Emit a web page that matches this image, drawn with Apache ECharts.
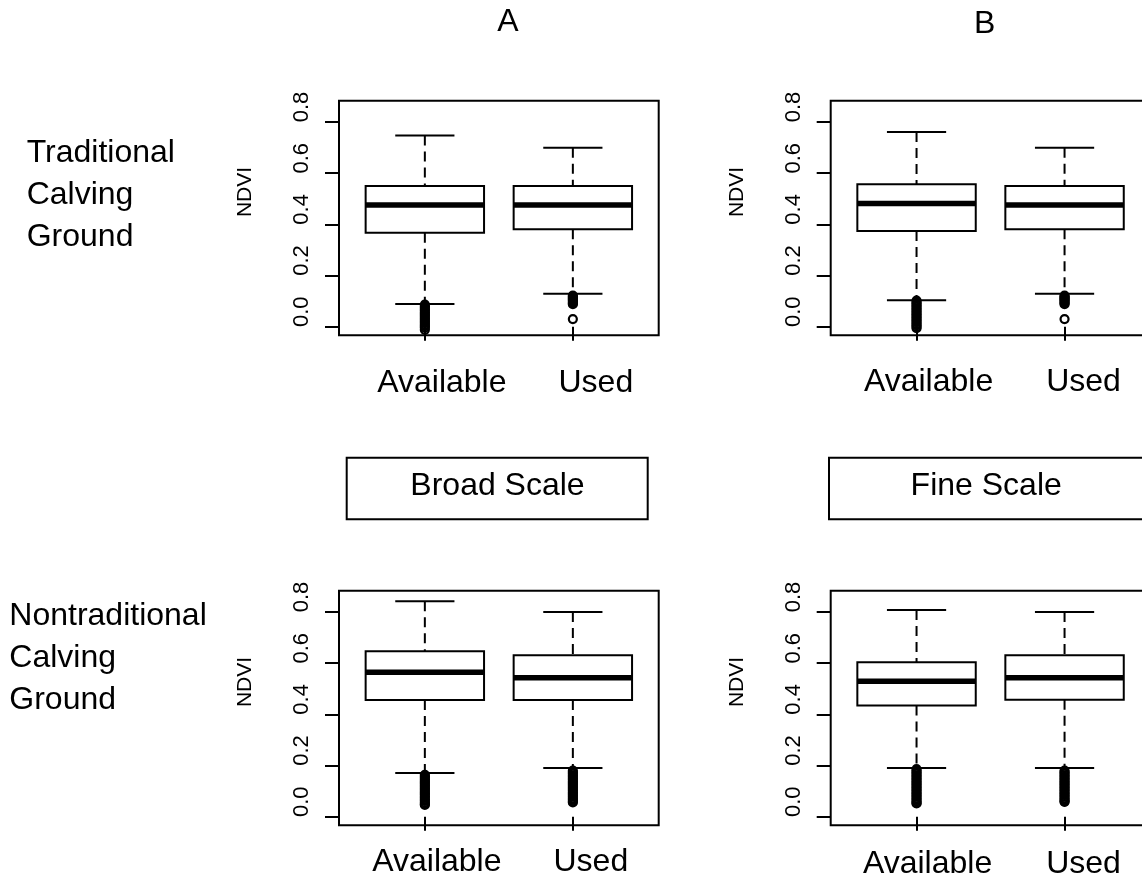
<!DOCTYPE html>
<html><head><meta charset="utf-8">
<script src="https://cdn.jsdelivr.net/npm/echarts@6/dist/echarts.min.js"></script>
<style>html,body{margin:0;padding:0;background:#fff}#c{width:1142px;height:882px}</style>
</head><body><div id="c"></div>
<script>
const categories = ['Available', 'Used'];
const yTicks = [0.0, 0.2, 0.4, 0.6, 0.8];
const rowLabels = ['Traditional\nCalving\nGround', 'Nontraditional\nCalving\nGround'];
const panelLetters = ['A', 'B'];
const scaleLabels = ['Broad Scale', 'Fine Scale'];

// box statistics: [lower whisker, Q1, median, Q3, upper whisker]
const tradBroadAvail = [0.089, 0.3675, 0.476, 0.550, 0.747];
const tradBroadUsed  = [0.129, 0.381, 0.476, 0.550, 0.700];
const tradFineAvail  = [0.103, 0.374, 0.482, 0.557, 0.761];
const tradFineUsed   = [0.129, 0.381, 0.476, 0.550, 0.700];
const nonBroadAvail  = [0.171, 0.456, 0.565, 0.647, 0.842];
const nonBroadUsed   = [0.190, 0.456, 0.543, 0.631, 0.800];
const nonFineAvail   = [0.190, 0.435, 0.530, 0.604, 0.808];
const nonFineUsed    = [0.190, 0.457, 0.543, 0.631, 0.800];

// outliers
const tradBroadAvailOut = [0.086,0.080,0.074,0.068,0.062,0.056,0.050,0.044,0.038,0.032,0.026,0.020,0.014,0.008,0.002,-0.004,-0.012];
const tradBroadUsedOut  = [0.122,0.118,0.114,0.110,0.106,0.102,0.097,0.092,0.088,0.030];
const tradFineAvailOut  = [0.102,0.096,0.090,0.084,0.078,0.072,0.066,0.060,0.054,0.048,0.042,0.036,0.030,0.024,0.018,0.012,0.006,0.000,-0.006];
const tradFineUsedOut   = [0.122,0.118,0.114,0.110,0.106,0.102,0.097,0.092,0.088,0.030];
const nonBroadAvailOut  = [0.164,0.158,0.152,0.146,0.140,0.134,0.128,0.122,0.116,0.110,0.104,0.098,0.092,0.086,0.080,0.074,0.068,0.062,0.056,0.050,0.046];
const nonBroadUsedOut   = [0.180,0.174,0.168,0.162,0.156,0.150,0.144,0.138,0.132,0.126,0.120,0.114,0.108,0.102,0.096,0.090,0.084,0.078,0.072,0.066,0.060,0.056];
const nonFineAvailOut   = [0.186,0.180,0.174,0.168,0.162,0.156,0.150,0.144,0.138,0.132,0.126,0.120,0.114,0.108,0.102,0.096,0.090,0.084,0.078,0.072,0.066,0.060,0.054,0.052];
const nonFineUsedOut    = [0.180,0.174,0.168,0.162,0.156,0.150,0.144,0.138,0.132,0.126,0.120,0.114,0.108,0.102,0.096,0.090,0.084,0.078,0.072,0.066,0.060,0.058];

const FONT = "'Liberation Sans', Arial, Helvetica, sans-serif";
const X_MIN = 0.42, X_MAX = 2.58, Y_MIN = -0.0336, Y_MAX = 0.8835;
const GW = 319.7, GH = 234.6;
const PXU = GW / (X_MAX - X_MIN);

const panels = [
  {stats: [tradBroadAvail, tradBroadUsed], out: [tradBroadAvailOut, tradBroadUsedOut], left: 339, top: 100.7, lm: 32.2, shift: [17, 23]},
  {stats: [tradFineAvail, tradFineUsed],   out: [tradFineAvailOut, tradFineUsedOut],   left: 830.7, top: 100.7, lm: 31.2, shift: [12, 19]},
  {stats: [nonBroadAvail, nonBroadUsed],   out: [nonBroadAvailOut, nonBroadUsedOut],   left: 339, top: 590.7, lm: 21.2, shift: [12, 18]},
  {stats: [nonFineAvail, nonFineUsed],     out: [nonFineAvailOut, nonFineUsedOut],     left: 830.7, top: 590.7, lm: 22.7, shift: [11, 19]}
];

const grid = [], xAxis = [], yAxis = [], series = [];
panels.forEach((p, i) => {
  grid.push({left: p.left, top: p.top, width: GW, height: GH, show: true, borderColor: '#000', borderWidth: 2,
             backgroundColor: 'transparent', containLabel: false, outerBoundsMode: 'none'});
  xAxis.push({
    type: 'value', gridIndex: i, min: X_MIN, max: X_MAX,
    axisLine: {show: false}, splitLine: {show: false},
    axisTick: {show: true, length: 14, lineStyle: {color: '#000', width: 2}, customValues: [1, 2]},
    axisLabel: {
      show: true, margin: p.lm, fontSize: 32, fontFamily: FONT, color: '#000',
      customValues: [1 + p.shift[0] / PXU, 2 + p.shift[1] / PXU],
      formatter: v => categories[Math.round(v) - 1]
    }
  });
  yAxis.push({
    type: 'value', gridIndex: i, min: Y_MIN, max: Y_MAX,
    name: 'NDVI', nameLocation: 'middle', nameRotate: 90, nameGap: 83,
    nameTextStyle: {fontSize: 21, fontFamily: FONT, color: '#000', padding: [0, 0, 0, 52]},
    axisLine: {show: false}, splitLine: {show: false},
    axisTick: {show: true, length: 14, lineStyle: {color: '#000', width: 2}, customValues: yTicks},
    axisLabel: {
      show: true, rotate: 90, margin: 26, fontSize: 22, fontFamily: FONT, color: '#000',
      padding: [0, 0, 0, 30], customValues: yTicks, formatter: v => v.toFixed(1)
    }
  });
  series.push({
    type: 'custom', xAxisIndex: i, yAxisIndex: i, z: 2,
    data: p.stats.map((s, k) => [k + 1].concat(s)),
    encode: {x: 0, y: [1, 2, 3, 4, 5]},
    renderItem: (params, api) => {
      const x = api.value(0);
      const lo = api.value(1), q1 = api.value(2), md = api.value(3), q3 = api.value(4), hi = api.value(5);
      const c = (a, b) => api.coord([a, b]);
      const hw = 0.4, cw = 0.2;
      const pHi = c(x, hi), pQ3 = c(x, q3), pQ1 = c(x, q1), pLo = c(x, lo);
      const bl = c(x - hw, q3), br = c(x + hw, q1);
      const ml = c(x - hw, md), mr = c(x + hw, md);
      const stroke = {stroke: '#000', lineWidth: 2, fill: null};
      const dash = {stroke: '#000', lineWidth: 2, lineDash: [10, 6], fill: null};
      return {
        type: 'group',
        children: [
          {type: 'line', shape: {x1: pHi[0], y1: pHi[1], x2: pQ3[0], y2: pQ3[1]}, style: dash},
          {type: 'line', shape: {x1: pQ1[0], y1: pQ1[1], x2: pLo[0], y2: pLo[1]}, style: dash},
          {type: 'line', shape: {x1: c(x - cw, hi)[0], y1: pHi[1], x2: c(x + cw, hi)[0], y2: pHi[1]}, style: stroke},
          {type: 'line', shape: {x1: c(x - cw, lo)[0], y1: pLo[1], x2: c(x + cw, lo)[0], y2: pLo[1]}, style: stroke},
          {type: 'rect', shape: {x: bl[0], y: bl[1], width: br[0] - bl[0], height: br[1] - bl[1]},
           style: {stroke: '#000', lineWidth: 2, fill: '#fff'}},
          {type: 'line', shape: {x1: ml[0], y1: ml[1], x2: mr[0], y2: mr[1]}, style: {stroke: '#000', lineWidth: 5.5}}
        ]
      };
    }
  });
  series.push({
    type: 'scatter', xAxisIndex: i, yAxisIndex: i, z: 3,
    symbol: 'circle', symbolSize: 8, silent: true,
    itemStyle: {color: 'rgba(0,0,0,0)', borderColor: '#000', borderWidth: 2.2, opacity: 1},
    data: [].concat(p.out[0].map(v => [1, v]), p.out[1].map(v => [2, v]))
  });
});

const txt = (x, y, text, align, extra) => Object.assign({
  type: 'text', x: x, y: y, silent: true,
  style: Object.assign({text: text, fill: '#000', fontSize: 32, fontFamily: FONT, align: align, verticalAlign: 'middle'}, extra || {})
});

const graphic = [
  txt(507.8, 22.5, panelLetters[0], 'center'),
  txt(984.7, 24.3, panelLetters[1], 'center'),
  txt(26.7, 195, rowLabels[0], 'left', {lineHeight: 42.3}),
  txt(9.3, 658, rowLabels[1], 'left', {lineHeight: 42.3}),
  {type: 'rect', shape: {x: 346.7, y: 457.7, width: 301, height: 61.6}, style: {stroke: '#000', lineWidth: 2, fill: '#fff'}, silent: true},
  {type: 'rect', shape: {x: 829, y: 457.7, width: 330, height: 61.6}, style: {stroke: '#000', lineWidth: 2, fill: '#fff'}, silent: true},
  txt(497.5, 486.3, scaleLabels[0], 'center'),
  txt(986.2, 486.3, scaleLabels[1], 'center')
];

const chart = echarts.init(document.getElementById('c'), null, {renderer: 'canvas'});
chart.setOption({
  backgroundColor: '#fff', animation: false,
  grid: grid, xAxis: xAxis, yAxis: yAxis, series: series, graphic: graphic
});
</script></body></html>
